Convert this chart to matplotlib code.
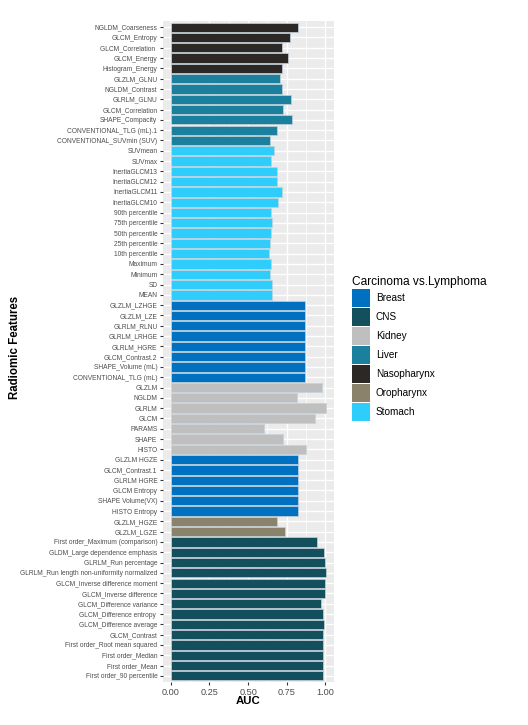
import matplotlib
matplotlib.use("Agg")
import matplotlib.pyplot as plt
from matplotlib.patches import Patch
import numpy as np

plt.rcParams['font.family'] = ['Liberation Sans', 'DejaVu Sans']

features = [
    "NGLDM_Coarseness", "GLCM_Entropy", "GLCM_Correlation ", "GLCM_Energy", "Histogram_Energy",
    "GLZLM_GLNU", "NGLDM_Contrast", "GLRLM_GLNU", "GLCM_Correlation", "SHAPE_Compacity",
    "CONVENTIONAL_TLG (mL).1", "CONVENTIONAL_SUVmin (SUV)",
    "SUVmean", "SUVmax", "InertiaGLCM13", "InertiaGLCM12", "InertiaGLCM11", "InertiaGLCM10",
    "90th percentile", "75th percentile", "50th percentile", "25th percentile", "10th percentile",
    "Maximum", "Minimum", "SD", "MEAN",
    "GLZLM_LZHGE", "GLZLM_LZE", "GLRLM_RLNU", "GLRLM_LRHGE", "GLRLM_HGRE", "GLCM_Contrast.2",
    "SHAPE_Volume (mL)", "CONVENTIONAL_TLG (mL)",
    "GLZLM", "NGLDM", "GLRLM", "GLCM", "PARAMS", "SHAPE", "HISTO",
    "GLZLM HGZE", "GLCM_Contrast.1", "GLRLM HGRE", "GLCM Entropy", "SHAPE Volume(VX)", "HISTO Entropy",
    "GLZLM_HGZE", "GLZLM_LGZE",
    "First order_Maximum (comparison)", "GLDM_Large dependence emphasis", "GLRLM_Run percentage",
    "GLRLM_Run length non-uniformity normalized", "GLCM_Inverse difference moment",
    "GLCM_Inverse difference", "GLCM_Difference variance", "GLCM_Difference entropy ",
    "GLCM_Difference average", "GLCM_Contrast", "First order_Root mean squared",
    "First order_Median", "First order_Mean", "First order_90 percentile",
]

groups = (["Nasopharynx"] * 5 + ["Liver"] * 7 + ["Stomach"] * 15 + ["Breast"] * 8
          + ["Kidney"] * 7 + ["Breast"] * 6 + ["Oropharynx"] * 2 + ["CNS"] * 14)

auc = [
    0.821, 0.771, 0.721, 0.760, 0.721,
    0.706, 0.721, 0.775, 0.728, 0.786, 0.687, 0.641,
    0.665, 0.650, 0.689, 0.689, 0.717, 0.695,
    0.650, 0.652, 0.646, 0.639, 0.633,
    0.646, 0.639, 0.652, 0.652,
    0.870, 0.870, 0.870, 0.870, 0.870, 0.870, 0.870, 0.870,
    0.976, 0.816, 1.002, 0.931, 0.600, 0.726, 0.873,
    0.821, 0.821, 0.821, 0.821, 0.821, 0.821,
    0.687, 0.737,
    0.944, 0.989, 0.994, 1.002, 0.994,
    0.994, 0.974, 0.981, 0.991, 0.987, 0.987,
    0.981, 0.983, 0.987,
]

legend_groups = ["Breast", "CNS", "Kidney", "Liver", "Nasopharynx", "Oropharynx", "Stomach"]
group_colors = ["#0070C0", "#134F5C", "#BFBFBF", "#1B7F9E", "#2B2826", "#8B826C", "#2ECDFB"]
cmap = dict(zip(legend_groups, group_colors))

xticks = [0.0, 0.25, 0.5, 0.75, 1.0]
xticklabels = ["0.00", "0.25", "0.50", "0.75", "1.00"]

fig = plt.figure(figsize=(5.28, 7.25), dpi=100)
ax = fig.add_axes([163/528, 1 - 682/725, (334 - 163)/528, (682 - 21)/725])
ax.set_facecolor("#EBEBEB")

n = len(features)
ypos = np.arange(n)[::-1]
ax.barh(ypos, auc, height=0.9, color=[cmap[g] for g in groups],
        edgecolor="#c5d3da", linewidth=0.5, zorder=3)

ax.set_xlim(-0.05, 1.055)
ax.set_ylim(-0.6, n - 0.4)
ax.set_xticks(xticks)
ax.set_xticklabels(xticklabels, fontsize=6.6, color="#4D4D4D")
ax.set_xticks([0.125, 0.375, 0.625, 0.875], minor=True)
ax.set_yticks(ypos)
ax.set_yticklabels(features, fontsize=4.75, color="#4D4D4D")
ax.tick_params(axis="both", which="major", length=2.5, width=0.8, color="#333333", pad=1.5)
ax.tick_params(axis="x", which="minor", length=0)
ax.grid(True, which="major", color="white", linewidth=1.0, zorder=0)
ax.grid(True, which="minor", axis="x", color="white", linewidth=0.5, zorder=0)
for s in ax.spines.values():
    s.set_visible(False)

fig.text(248/528, 1 - 701/725, "AUC", fontsize=8.2, fontweight="bold",
         ha="center", va="center")
fig.text(15/528, 1 - 347/725, "Radiomic Features", fontsize=8.3, fontweight="bold",
         rotation=90, ha="center", va="center")

fs = 7.2
hh = (12.96 / fs - 0.245) / 0.65
handles = [Patch(facecolor=c, edgecolor="none") for c in group_colors]
leg = fig.legend(handles, legend_groups, title="Carcinoma vs.Lymphoma",
                 loc="upper left", bbox_to_anchor=(350/528, 1 - 274/725),
                 frameon=False, fontsize=fs, title_fontsize=8.6,
                 handlelength=1.8, handleheight=hh, labelspacing=0.1,
                 handletextpad=0.6, borderaxespad=0, borderpad=0.2)
leg._legend_box.align = "left"

fig.savefig("out.png", dpi=100)
